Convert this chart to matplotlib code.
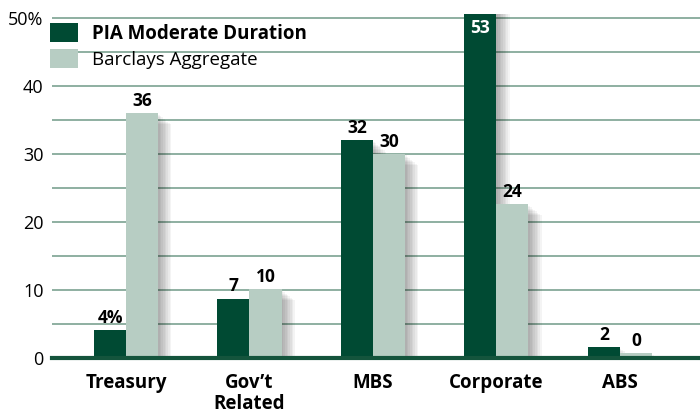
import matplotlib
matplotlib.use("Agg")
import matplotlib.pyplot as plt
import matplotlib.patheffects as pe
from matplotlib import font_manager as fm
import numpy as np

categories = ["Treasury", "Gov\u2019t\nRelated", "MBS", "Corporate", "ABS"]
pia_values = [4.1, 8.7, 32.0, 53.0, 1.6]
barclays_values = [36.0, 10.1, 30.0, 22.6, 0.7]
pia_labels = ["4%", "7", "32", "53", "2"]
barclays_labels = ["36", "10", "30", "24", "0"]
series_names = ["PIA Moderate Duration", "Barclays Aggregate"]
y_ticks = [0, 10, 20, 30, 40, 50]
y_tick_labels = ["0", "10", "20", "30", "40", "50%"]

names = {f.name for f in fm.fontManager.ttflist}
font = "Open Sans" if "Open Sans" in names else "DejaVu Sans"

dark = "#004a33"
light = "#b7cdc3"
grid_c = "#86a99a"

fig = plt.figure(figsize=(7, 4.2), dpi=100)
ax = fig.add_axes([52/700, (420-358)/420, 1-52/700, (358-14)/420])

x = np.arange(len(categories))
w = 0.26

def shadow():
    effs = []
    for k in range(1, 9):
        effs.append(pe.SimplePatchShadow(offset=(1.2*k, -1.0*k), shadow_rgbFace="black", alpha=0.045))
    effs.append(pe.Normal())
    return effs

b1 = ax.bar(x - w/2, pia_values, w, color=dark, zorder=3, label=series_names[0])
b2 = ax.bar(x + w/2, barclays_values, w, color=light, zorder=3, label=series_names[1])
for b in list(b1) + list(b2):
    b.set_path_effects(shadow())

ax.set_xlim(-0.6, 4.65)
ax.set_ylim(0, 50.6)

for yv in np.arange(5, 51, 5):
    ax.axhline(yv, color=grid_c, lw=1.3, zorder=1)
ax.axhline(0, color="#14543c", lw=3, zorder=5, clip_on=False)

for s in ax.spines.values():
    s.set_visible(False)
ax.set_yticks(y_ticks)
ax.set_yticklabels(y_tick_labels, fontsize=13, family=font)
ax.tick_params(axis="y", length=0, pad=6)
ax.set_xticks(x)
ax.set_xticklabels(categories, fontsize=13.5, fontweight="bold", family=font, linespacing=1.05)
ax.tick_params(axis="x", length=0, pad=11)

for i in range(len(categories)):
    if pia_values[i] > 50:
        ax.text(x[i] - w/2, 49.9, pia_labels[i], ha="center", va="top", fontsize=12.5,
                fontweight="bold", family=font, color="white", zorder=6)
    else:
        ax.text(x[i] - w/2, pia_values[i] + 0.5, pia_labels[i], ha="center", va="bottom",
                fontsize=12.5, fontweight="bold", family=font, color="black", zorder=6)
    ax.text(x[i] + w/2, barclays_values[i] + 0.5, barclays_labels[i], ha="center", va="bottom",
            fontsize=12.5, fontweight="bold", family=font, color="black", zorder=6)

leg = ax.legend(loc="upper left", bbox_to_anchor=(-0.003, 0.975), frameon=False,
                handlelength=1.5, handleheight=1.2, handletextpad=0.75, labelspacing=0.3,
                borderaxespad=0, borderpad=0, prop={"family": font, "size": 13.5})
leg.get_texts()[0].set_fontweight("bold")
for h in leg.legend_handles:
    h.set_path_effects([])

fig.savefig("out.png", dpi=100)
